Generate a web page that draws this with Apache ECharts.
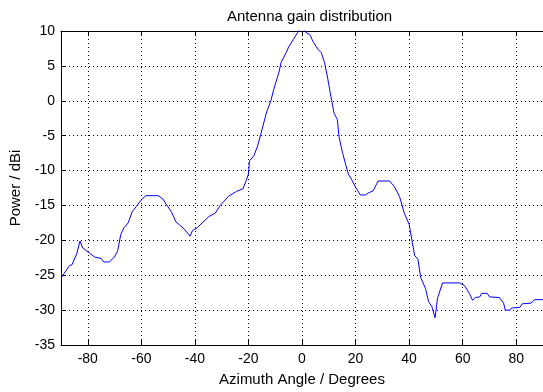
<!DOCTYPE html>
<html><head><meta charset="utf-8">
<script src="https://cdn.jsdelivr.net/npm/echarts@6/dist/echarts.min.js"></script>
<style>html,body{margin:0;padding:0;background:#fff}#c{width:543px;height:392px}</style>
</head><body><div id="c"></div><script>
const angles = [-90,-89.6,-86.8,-85.9,-84.1,-82.9,-81.9,-79.8,-77.4,-75,-74,-71.9,-70.1,-68.9,-67.7,-66.5,-64.9,-63.4,-61.6,-60,-58.3,-53.7,-51.9,-50.6,-48.8,-47,-45.7,-43.9,-41.8,-40.9,-39.1,-37.3,-34.8,-32.4,-30.5,-27.5,-24.5,-22,-20.8,-20,-19.6,-18,-16.6,-15.4,-13.2,-11.7,-10.5,-8.6,-7.8,-5.9,-5,-3.2,-1.6,-0.8,0.6,1.4,2.9,4.1,5.9,7.2,8.4,9.6,10.8,12,13.2,13.8,15.1,16.3,17.3,18.7,20,21.8,23.8,24.8,26.6,28.4,32.7,34.5,36.4,38.2,40,41.2,42.1,43.3,44.3,46.1,47.3,48.5,49.7,50.6,52.5,58.9,60.7,62.5,63.7,64.7,66.4,67.1,69.2,70,73.7,75.3,75.9,77.4,78.4,81.4,82.2,85.6,86.8,90];
const gain = [-25.4,-25.2,-23.6,-23.5,-21.9,-20.1,-21.1,-21.7,-22.4,-22.6,-23.1,-23.1,-22.4,-21.6,-19.2,-18.2,-17.5,-15.9,-15.0,-14.2,-13.6,-13.6,-14.1,-14.9,-15.9,-17.4,-17.8,-18.4,-19.4,-18.6,-18.2,-17.5,-16.6,-16.1,-15.0,-13.7,-13.0,-12.6,-11.4,-10.5,-8.6,-7.9,-6.5,-4.8,-1.6,-0.1,1.7,4.1,5.5,6.9,7.7,8.8,9.8,10.2,10.2,9.8,9.5,8.5,7.4,6.9,5.5,3.2,0.6,-1.8,-2.7,-5.1,-7.4,-9.1,-10.5,-11.4,-12.4,-13.5,-13.5,-13.2,-12.9,-11.5,-11.5,-12.3,-13.7,-16.1,-17.7,-20.3,-22.2,-22.7,-25.3,-26.9,-28.8,-29.5,-31.1,-28.3,-26.1,-26.1,-26.5,-27.6,-28.6,-28.2,-28.1,-27.6,-27.6,-28.1,-28.2,-29.0,-30.0,-30.0,-29.7,-29.6,-29.1,-29.0,-28.5,-28.5];
const xTicks = [-80,-60,-40,-20,0,20,40,60,80];
const titleText = 'Antenna gain distribution';
const xName = 'Azimuth Angle / Degrees';
const yName = 'Power / dBi';

const font = 'Liberation Sans, Arial, Helvetica, sans-serif';
const black = '#000';
const dotted = {color: black, width: 1, type: [1, 3]};
const chart = echarts.init(document.getElementById('c'), null, {renderer: 'canvas'});
chart.setOption({
  animation: false,
  backgroundColor: '#fff',
  title: {text: titleText, left: 222, top: 4, textStyle: {fontFamily: font, fontSize: 15, fontWeight: 'normal', color: black}},
  grid: {left: 59, right: -9, top: 31, bottom: 42, containLabel: false},
  xAxis: [{
    type: 'value', min: -90, max: 90, position: 'bottom',
    axisLine: {show: true, onZero: false, lineStyle: {color: black, width: 1}},
    axisTick: {show: true, inside: true, length: 5, customValues: xTicks, lineStyle: {color: black}},
    axisLabel: {customValues: xTicks, color: black, fontSize: 14, fontFamily: font, margin: 7},
    splitLine: {show: true, lineStyle: dotted},
    name: xName, nameLocation: 'middle', nameGap: 27,
    nameTextStyle: {fontFamily: font, fontSize: 15, color: black}
  }, {
    type: 'value', min: -90, max: 90, position: 'top',
    axisLine: {show: true, onZero: false, lineStyle: {color: black, width: 1}},
    axisTick: {show: true, inside: true, length: 5, customValues: xTicks, lineStyle: {color: black}},
    axisLabel: {show: false},
    splitLine: {show: false}
  }],
  yAxis: {
    type: 'value', min: -35, max: 10, interval: 5, position: 'left',
    axisLine: {show: true, onZero: false, lineStyle: {color: black, width: 1}},
    axisTick: {show: true, inside: true, length: 5, lineStyle: {color: black}},
    axisLabel: {color: black, fontSize: 14, fontFamily: font, margin: 6},
    splitLine: {show: true, lineStyle: dotted},
    name: yName, nameLocation: 'middle', nameGap: 38, nameRotate: 90,
    nameTextStyle: {fontFamily: font, fontSize: 15, color: black}
  },
  series: [{
    type: 'line', xAxisIndex: 0, data: angles.map((a, i) => [a, gain[i]]),
    showSymbol: false, symbol: 'none', clip: true,
    lineStyle: {color: '#0000ff', width: 1}
  }]
});
</script></body></html>
